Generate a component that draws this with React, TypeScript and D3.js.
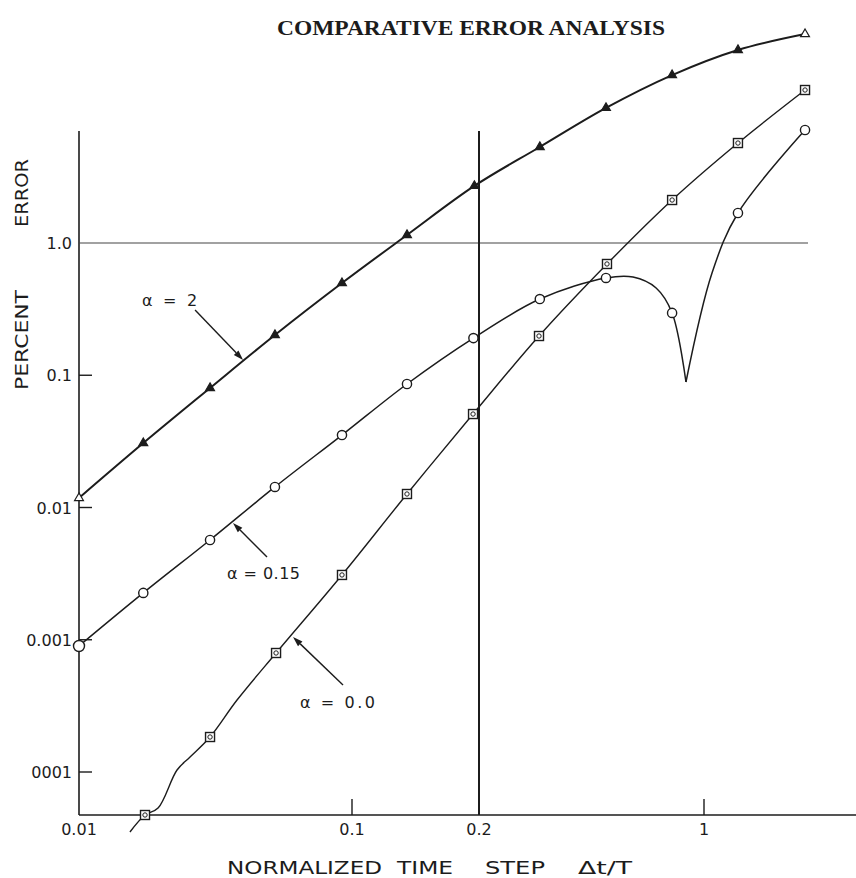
import React from 'react';
import * as d3 from 'd3';

// ---------- data ----------
const titleText = 'COMPARATIVE ERROR ANALYSIS';
const xTickValues = [0.01, 0.1, 0.2, 1];
const xTickLabels = ['0.01', '0.1', '0.2', '1'];
const yTickValues = [1, 0.1, 0.01, 0.001, 0.0001];
const yTickLabels = ['1.0', '0.1', '0.01', '0.001', '0001'];
const xTitleWords = ['NORMALIZED', 'TIME', 'STEP', 'Δt/T'];
const yTitleWords = ['PERCENT', 'ERROR'];

// alpha = 2 (triangles)
const a2X = [0.01, 0.0172, 0.0302, 0.0522, 0.0919, 0.135, 0.195, 0.309, 0.496, 0.796, 1.275, 2.06];
const a2Y = [0.0118, 0.0307, 0.0801, 0.2015, 0.498, 1.149, 2.70, 5.32, 10.5, 18.6, 28.8, 38.0];

// alpha = 0.15 (circles) markers
const a15X = [0.01, 0.0172, 0.0302, 0.0522, 0.0919, 0.135, 0.194, 0.309, 0.496, 0.796, 1.275, 2.06];
const a15Y = [0.000897, 0.00226, 0.00568, 0.0143, 0.0353, 0.0859, 0.191, 0.377, 0.544, 0.296, 1.686, 7.15];
// alpha = 0.15 curve (left branch down to the dip, right branch up from the dip)
const a15LeftX = [0.01, 0.0172, 0.0302, 0.0522, 0.0919, 0.135, 0.194, 0.309, 0.496, 0.602, 0.710, 0.796, 0.879];
const a15LeftY = [0.000897, 0.00226, 0.00568, 0.0143, 0.0353, 0.0859, 0.191, 0.377, 0.544, 0.553, 0.457, 0.296, 0.0889];
const a15RightX = [0.879, 1.059, 1.275, 2.06];
const a15RightY = [0.0889, 0.593, 1.686, 7.15];

// alpha = 0.0 (squares) markers
const a0X = [0.01745, 0.0302, 0.0527, 0.0919, 0.135, 0.1936, 0.3072, 0.4996, 0.796, 1.275, 2.06];
const a0Y = [4.73e-5, 1.839e-4, 7.94e-4, 3.09e-3, 0.01265, 0.0509, 0.198, 0.694, 2.114, 5.70, 14.35];
// alpha = 0.0 curve
const a0CurveX = [0.01537, 0.01745, 0.01948, 0.02286, 0.02551, 0.0302, 0.03792, 0.0527, 0.0919, 0.135, 0.1936, 0.3072, 0.4996, 0.796, 1.275, 2.06];
const a0CurveY = [3.52e-5, 4.73e-5, 5.34e-5, 1.035e-4, 1.298e-4, 1.839e-4, 3.5e-4, 7.94e-4, 3.09e-3, 0.01265, 0.0509, 0.198, 0.694, 2.114, 5.70, 14.35];

// annotations
const annoLabels = ['α = 2', 'α = 0.15', 'α = 0.0'];
const annoTipX = [0.0399, 0.03665, 0.0608];
const annoTipY = [0.1304, 0.00763, 0.00105];

// ---------- layout ----------
const W = 856;
const H = 878;
const LEFT = 79;
const BOTTOM = 815;
const TOP = 131;
const RIGHT = 856;
const GRID_RIGHT = 808;
const INK = '#1c1c1c';
const SANS = "'DejaVu Sans', 'Liberation Sans', sans-serif";
const SERIF = "'Liberation Serif', 'DejaVu Serif', serif";

// tail offset, text offset, text length for each annotation
const annoLayout = [
  { tail: [-48, -50], text: [-101, -54], len: 55 },
  { tail: [34, 34], text: [-6, 56], len: 73 },
  { tail: [50, 48], text: [7, 71], len: 75 },
];

const xScale = d3.scaleLog().domain(xTickValues).range([79, 352, 479, 704]);
const yScale = d3.scaleLog().domain([0.0001, 1]).range([772, 243]);

const zip = (xs: number[], ys: number[]) => xs.map((x, i) => [x, ys[i]] as [number, number]);

const line = d3
  .line<[number, number]>()
  .x((d) => xScale(d[0]))
  .y((d) => yScale(d[1]))
  .curve(d3.curveCatmullRom.alpha(0.5));

const triPath = d3.symbol().type(d3.symbolTriangle).size(34)() as string;

export default function App() {
  return (
    <svg
      width={W}
      height={H}
      viewBox={`0 0 ${W} ${H}`}
      style={{ position: 'absolute', left: 0, top: 0, background: '#fff', display: 'block' }}
    >
      <rect x={0} y={0} width={W} height={H} fill="#fff" />

      {/* title */}
      <text
        x={471}
        y={35}
        textAnchor="middle"
        fontFamily={SERIF}
        fontWeight="bold"
        fontSize={21}
        textLength={388}
        lengthAdjust="spacingAndGlyphs"
        fill={INK}
      >
        {titleText}
      </text>

      {/* axes */}
      <line x1={LEFT} y1={TOP} x2={LEFT} y2={BOTTOM} stroke={INK} strokeWidth={1.6} />
      <line x1={LEFT} y1={BOTTOM} x2={RIGHT} y2={BOTTOM} stroke={INK} strokeWidth={1.6} />

      {/* y ticks */}
      {yTickValues.map((v, i) => {
        const y = yScale(v);
        return (
          <g key={'yt' + i}>
            {v === 1 ? (
              <line x1={LEFT} y1={y} x2={GRID_RIGHT} y2={y} stroke="#444" strokeWidth={1.2} />
            ) : (
              <line x1={LEFT} y1={y} x2={LEFT + 13} y2={y} stroke={INK} strokeWidth={1.4} />
            )}
            <text
              x={72}
              y={y + 6}
              textAnchor="end"
              fontFamily={SANS}
              fontSize={16}
              fill={INK}
            >
              {yTickLabels[i]}
            </text>
          </g>
        );
      })}

      {/* x ticks */}
      {xTickValues.map((v, i) => {
        const x = xScale(v);
        return (
          <g key={'xt' + i}>
            {v === 0.2 ? (
              <line x1={x} y1={TOP} x2={x} y2={BOTTOM} stroke={INK} strokeWidth={2} />
            ) : v === 0.01 ? null : (
              <line x1={x} y1={BOTTOM} x2={x} y2={BOTTOM - 16} stroke={INK} strokeWidth={1.4} />
            )}
            <text x={x} y={835} textAnchor="middle" fontFamily={SANS} fontSize={16} fill={INK}>
              {xTickLabels[i]}
            </text>
          </g>
        );
      })}

      {/* axis titles */}
      {xTitleWords.map((w, i) => {
        const starts = [227, 397, 485, 578];
        const lens = [155, 56, 60, 54];
        return (
          <text
            key={'xw' + i}
            x={starts[i]}
            y={874}
            fontFamily={SANS}
            fontSize={18}
            textLength={lens[i]}
            lengthAdjust="spacingAndGlyphs"
            fill={INK}
          >
            {w}
          </text>
        );
      })}
      {yTitleWords.map((w, i) => {
        const centers = [340, 193];
        const lens = [100, 68];
        return (
          <text
            key={'yw' + i}
            transform={`translate(28,${centers[i]}) rotate(-90)`}
            textAnchor="middle"
            fontFamily={SANS}
            fontSize={18}
            textLength={lens[i]}
            lengthAdjust="spacingAndGlyphs"
            fill={INK}
          >
            {w}
          </text>
        );
      })}

      {/* series lines */}
      <path d={line(zip(a2X, a2Y)) as string} fill="none" stroke={INK} strokeWidth={2} />
      <path d={line(zip(a15LeftX, a15LeftY)) as string} fill="none" stroke={INK} strokeWidth={1.5} />
      <path d={line(zip(a15RightX, a15RightY)) as string} fill="none" stroke={INK} strokeWidth={1.5} />
      <path d={line(zip(a0CurveX, a0CurveY)) as string} fill="none" stroke={INK} strokeWidth={1.4} />

      {/* alpha = 2 markers */}
      {a2X.map((x, i) => {
        const open = i === 0 || i === a2X.length - 1;
        return (
          <path
            key={'m2' + i}
            d={triPath}
            transform={`translate(${xScale(x)},${yScale(a2Y[i])})`}
            fill={open ? '#fff' : INK}
            stroke={INK}
            strokeWidth={1.2}
          />
        );
      })}

      {/* alpha = 0.15 markers */}
      {a15X.map((x, i) => (
        <circle
          key={'m15' + i}
          cx={xScale(x)}
          cy={yScale(a15Y[i])}
          r={i === 0 ? 5.5 : 4.6}
          fill="#fff"
          stroke={INK}
          strokeWidth={1.4}
        />
      ))}

      {/* alpha = 0.0 markers */}
      {a0X.map((x, i) => {
        const cx = xScale(x);
        const cy = yScale(a0Y[i]);
        return (
          <g key={'m0' + i}>
            <rect x={cx - 4.5} y={cy - 4.5} width={9} height={9} fill="#fff" stroke={INK} strokeWidth={1.4} />
            <circle cx={cx} cy={cy} r={2.2} fill="none" stroke={INK} strokeWidth={1} />
          </g>
        );
      })}

      {/* annotations */}
      {annoLabels.map((lab, i) => {
        const tx = xScale(annoTipX[i]);
        const ty = yScale(annoTipY[i]);
        const L = annoLayout[i];
        const sx = tx + L.tail[0];
        const sy = ty + L.tail[1];
        const dx = tx - sx;
        const dy = ty - sy;
        const len = Math.hypot(dx, dy);
        const ux = dx / len;
        const uy = dy / len;
        const hl = 10;
        const hw = 3.2;
        const bx = tx - ux * hl;
        const by = ty - uy * hl;
        const head = `M${tx},${ty}L${bx - uy * hw},${by + ux * hw}L${bx + uy * hw},${by - ux * hw}Z`;
        return (
          <g key={'an' + i}>
            <line x1={sx} y1={sy} x2={bx} y2={by} stroke={INK} strokeWidth={1.4} />
            <path d={head} fill={INK} />
            <text
              x={tx + L.text[0]}
              y={ty + L.text[1]}
              fontFamily={SANS}
              fontSize={16}
              textLength={L.len}
              lengthAdjust="spacing"
              fill={INK}
            >
              {lab}
            </text>
          </g>
        );
      })}
    </svg>
  );
}
